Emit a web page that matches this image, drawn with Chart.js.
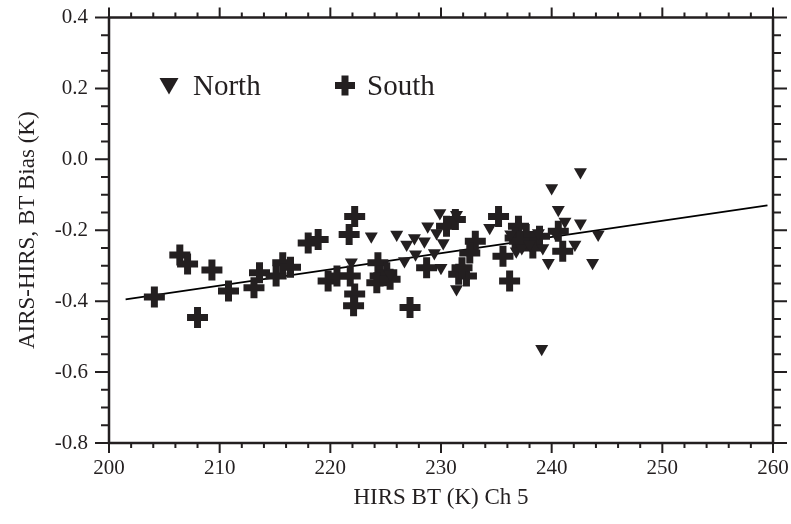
<!DOCTYPE html>
<html>
<head>
<meta charset="utf-8">
<script src="https://cdn.jsdelivr.net/npm/chart.js@4/dist/chart.umd.min.js"></script>
<style>
  html, body { margin: 0; padding: 0; background: #fff; }
  #wrap { width: 791px; height: 524px; }
</style>
</head>
<body>
<div id="wrap"><canvas id="chart" width="791" height="524"></canvas></div>
<script>
// Data
const northX = [223.7, 226.0, 226.9, 227.6, 228.5, 228.8, 229.6, 230.2, 226.7, 227.7, 229.4, 230.0,
    221.9, 225.4, 231.4, 231.4, 229.9, 234.4, 236.8, 237.3, 238.0, 239.2, 239.7, 240.3,
    240.0, 240.6, 241.2, 242.6, 242.6, 242.1, 244.2, 243.7, 239.1, 236.3, 238.8];
const northY = [-0.217, -0.212, -0.240, -0.222, -0.231, -0.189, -0.208, -0.236, -0.287, -0.268, -0.264, -0.306,
    -0.290, -0.324, -0.366, -0.156, -0.151, -0.193, -0.259, -0.250, -0.240, -0.250, -0.292, -0.207,
    -0.081, -0.142, -0.175, -0.036, -0.180, -0.240, -0.212, -0.292, -0.534, -0.211, -0.208];

const southX = [204.1, 206.4, 207.1, 209.3, 208.0, 210.8, 213.1, 213.6, 215.1, 215.7, 216.4, 218.0,
    218.9, 222.2, 221.7, 219.8, 220.6, 221.8, 222.2, 222.1, 224.3, 224.5, 225.1, 224.2,
    225.4, 227.2, 228.7, 231.6, 230.5, 231.3, 235.2, 233.1, 232.6, 235.6, 236.2, 232.3,
    231.9, 237.0, 236.7, 237.7, 237.1, 238.9, 241.0, 240.6, 238.3];
const southY = [-0.388, -0.270, -0.295, -0.312, -0.446, -0.371, -0.362, -0.320, -0.329, -0.292, -0.304, -0.236,
    -0.226, -0.161, -0.212, -0.343, -0.329, -0.329, -0.380, -0.413, -0.292, -0.329, -0.320, -0.348,
    -0.338, -0.418, -0.306, -0.324, -0.189, -0.170, -0.161, -0.231, -0.264, -0.273, -0.343, -0.329,
    -0.306, -0.189, -0.222, -0.212, -0.231, -0.217, -0.259, -0.203, -0.250];

// Linear fit line end points
const fitX = [201.5, 259.5];
const fitY = [-0.395, -0.13];

// Axis ranges and tick steps
const xRange = [200, 260];
const yRange = [-0.8, 0.4];
const xMajor = 10, xMinor = 2;
const yMajor = 0.2, yMinor = 0.05;

const INK = '#231f20';
const FONT = "'Liberation Serif', 'Times New Roman', serif";

function toPoints(xs, ys) {
    return xs.map((x, i) => ({ x: x, y: ys[i] }));
}

// Frame with outward major/minor ticks on all four sides
const frameTicks = {
    id: 'frameTicks',
    afterDraw(chart) {
        const { ctx, chartArea: a, scales } = chart;
        const xs = scales.x, ys = scales.y;
        ctx.save();
        ctx.strokeStyle = INK;
        ctx.lineWidth = 2.5;
        ctx.strokeRect(a.left, a.top, a.right - a.left, a.bottom - a.top);

        ctx.lineWidth = 2;
        const nx = Math.round((xRange[1] - xRange[0]) / xMinor);
        for (let i = 0; i <= nx; i++) {
            const v = xRange[0] + i * xMinor;
            const px = xs.getPixelForValue(v);
            const major = i % Math.round(xMajor / xMinor) === 0;
            const len = major ? 10 : 5;
            ctx.beginPath();
            ctx.moveTo(px, a.bottom); ctx.lineTo(px, a.bottom + len);
            ctx.moveTo(px, a.top); ctx.lineTo(px, a.top - len);
            ctx.stroke();
        }
        const ny = Math.round((yRange[1] - yRange[0]) / yMinor);
        for (let i = 0; i <= ny; i++) {
            const v = yRange[0] + i * yMinor;
            const py = ys.getPixelForValue(v);
            const major = i % Math.round(yMajor / yMinor) === 0;
            const len = major ? 14 : 8;
            ctx.beginPath();
            ctx.moveTo(a.left, py); ctx.lineTo(a.left - len, py);
            ctx.moveTo(a.right, py); ctx.lineTo(a.right + len, py);
            ctx.stroke();
        }
        ctx.restore();
    }
};

// Legend drawn inside the plot, top left
const insideLegend = {
    id: 'insideLegend',
    afterDraw(chart) {
        const { ctx, chartArea: a } = chart;
        ctx.save();
        ctx.fillStyle = INK;
        ctx.strokeStyle = INK;
        ctx.lineWidth = 0;
        Chart.helpers.drawPoint(ctx, { pointStyle: 'triangle', radius: 11, rotation: 180, borderWidth: 0 },
            a.left + 60, a.top + 66);
        ctx.lineWidth = 7;
        Chart.helpers.drawPoint(ctx, { pointStyle: 'cross', radius: 10, rotation: 0, borderWidth: 7 },
            a.left + 236, a.top + 68);
        ctx.font = '29px ' + FONT;
        ctx.textBaseline = 'alphabetic';
        ctx.textAlign = 'left';
        ctx.fillText('North', a.left + 84, a.top + 77);
        ctx.fillText('South', a.left + 258, a.top + 77);
        ctx.restore();
    }
};

new Chart(document.getElementById('chart'), {
    type: 'scatter',
    data: {
        datasets: [{
            label: 'North',
            data: toPoints(northX, northY),
            pointStyle: 'triangle',
            rotation: 180,
            radius: 7.5,
            backgroundColor: INK,
            borderColor: INK,
            borderWidth: 0
        }, {
            label: 'South',
            data: toPoints(southX, southY),
            pointStyle: 'cross',
            radius: 10.5,
            backgroundColor: INK,
            borderColor: INK,
            borderWidth: 7
        }, {
            type: 'line',
            label: 'Fit',
            data: toPoints(fitX, fitY),
            borderColor: '#000',
            borderWidth: 1.8,
            pointRadius: 0,
            fill: false
        }]
    },
    options: {
        responsive: false,
        animation: false,
        layout: { padding: { top: 15, right: 18, left: 0, bottom: 0 } },
        plugins: {
            legend: { display: false },
            tooltip: { enabled: false }
        },
        scales: {
            x: {
                type: 'linear',
                min: xRange[0],
                max: xRange[1],
                grid: { display: false, drawTicks: false },
                border: { display: false },
                ticks: {
                    stepSize: xMajor,
                    padding: 13,
                    color: INK,
                    font: { family: FONT, size: 21 }
                },
                title: {
                    display: true,
                    text: 'HIRS BT (K) Ch 5',
                    color: INK,
                    font: { family: FONT, size: 23 },
                    padding: { top: 0, bottom: 12 }
                },
                afterFit(scale) {
                    scale.height = 81;
                    scale.paddingLeft = 0;
                    scale.paddingRight = 0;
                }
            },
            y: {
                type: 'linear',
                min: yRange[0],
                max: yRange[1],
                grid: { display: false, drawTicks: false },
                border: { display: false },
                ticks: {
                    stepSize: yMajor,
                    padding: 21,
                    color: INK,
                    font: { family: FONT, size: 21 },
                    callback: v => Math.abs(v) < 1e-9 ? '0.0' : v.toFixed(1)
                },
                title: {
                    display: true,
                    text: 'AIRS-HIRS, BT Bias (K)',
                    color: INK,
                    font: { family: FONT, size: 23 },
                    padding: { top: 14, bottom: 0 }
                },
                afterFit(scale) {
                    scale.width = 109;
                    scale.paddingTop = 0;
                    scale.paddingBottom = 0;
                }
            }
        }
    },
    plugins: [frameTicks, insideLegend]
});
</script>
</body>
</html>
